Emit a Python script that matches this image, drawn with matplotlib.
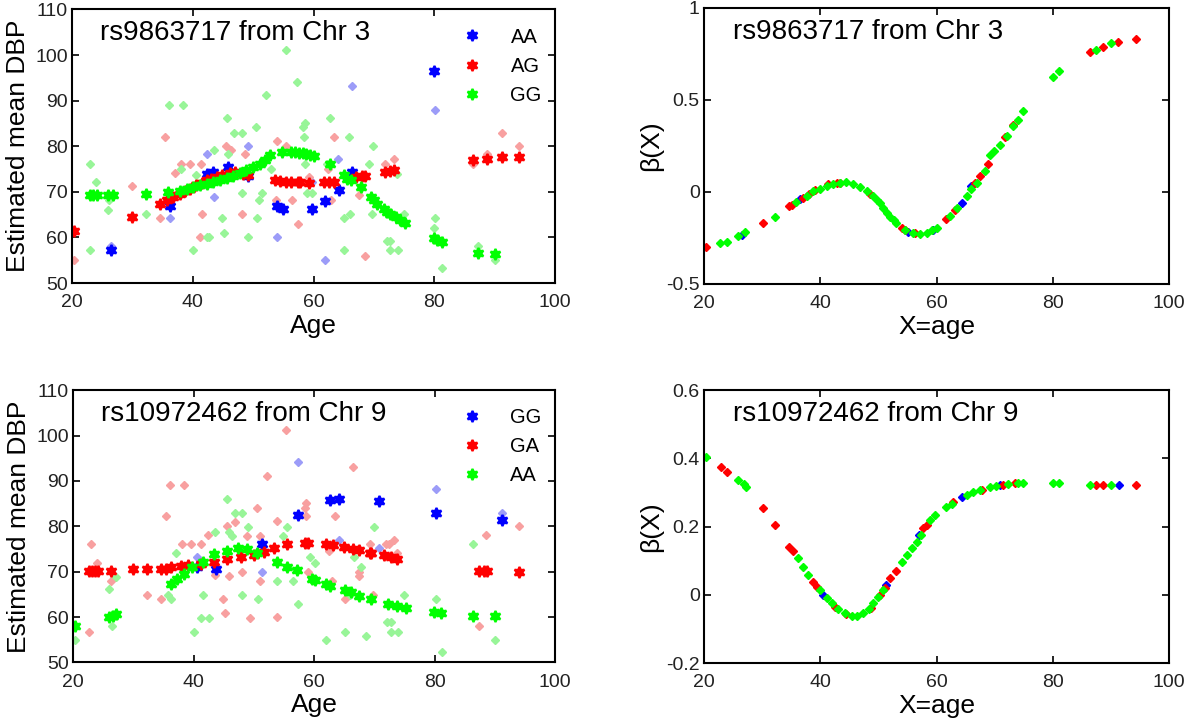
"""
Varying-coefficient fits of mean DBP against age for two SNPs.
"""
import numpy as np
import matplotlib
matplotlib.use('Agg')
import matplotlib.pyplot as plt

plt.rcParams['font.family'] = ['Liberation Sans', 'DejaVu Sans']

# ---------------- top-left: rs9863717, raw observations ----------------
tl_raw_AA_x = [26.4, 36.3, 42.3, 43.5, 49.1, 53.9, 59.8, 61.9, 64.1, 66.4, 80.2]
tl_raw_AA_y = [58.1, 64.2, 78.2, 68.9, 80.0, 60.0, 72.2, 55.0, 77.3, 93.1, 88.0]
tl_raw_AG_x = [20.3, 29.9, 34.6, 35.4, 37.1, 38.0, 39.6, 41.2, 41.3, 41.6, 45.5, 46.3,
               48.1, 48.6, 53.8, 53.9, 55.5, 56.5, 57.4, 59.3, 62.4, 62.9, 63.4, 66.7,
               67.5, 68.6, 71.9, 73.3, 86.4, 88.7, 91.2, 94.1]
tl_raw_AG_y = [55.0, 71.2, 64.2, 82.0, 74.1, 76.0, 76.0, 60.0, 76.0, 65.2, 80.1, 79.2,
               65.2, 78.2, 68.2, 81.1, 80.0, 68.2, 62.9, 73.3, 75.1, 68.2, 82.0, 73.3,
               69.3, 55.9, 76.0, 77.3, 76.2, 78.2, 82.9, 80.0]
tl_raw_GG_x = [22.9, 23.0, 24.0, 26.0, 26.2, 32.3, 36.1, 38.0, 38.4, 40.0, 40.5, 42.3,
               42.7, 43.5, 44.8, 45.2, 45.7, 45.9, 46.8, 48.1, 48.1, 49.2, 50.5, 50.7,
               51.0, 51.4, 52.2, 52.9, 55.4, 57.2, 58.2, 58.6, 58.5, 58.6, 59.0, 59.8,
               62.3, 62.7, 65.1, 65.1, 65.8, 66.0, 69.2, 69.7, 69.9, 72.1, 72.7, 72.7,
               73.8, 74.0, 75.0, 79.9, 80.2, 81.3, 87.3, 90.1]
tl_raw_GG_y = [57.2, 76.0, 72.2, 66.1, 68.3, 65.2, 89.1, 75.1, 89.1, 57.2, 73.6, 60.0,
               60.0, 79.2, 64.2, 61.0, 86.2, 78.2, 83.0, 83.0, 69.8, 60.0, 84.2, 64.2,
               68.2, 69.8, 91.3, 75.1, 101.1, 94.0, 84.2, 85.1, 82.0, 76.0, 69.8, 69.8,
               76.0, 86.3, 64.2, 57.2, 82.0, 65.2, 76.0, 65.2, 80.0, 59.3, 59.3, 57.2,
               74.0, 57.2, 65.2, 62.0, 64.2, 53.2, 58.1, 55.0]

# top-left: fitted means
tl_fit_AA_x = [26.4, 36.2, 42.3, 43.4, 45.9, 49.2, 53.9, 54.9, 59.8, 61.9, 64.2, 66.4, 80.0]
tl_fit_AA_y = [57.2, 66.9, 73.9, 74.4, 75.5, 73.5, 67.0, 66.3, 66.3, 68.0, 70.5, 74.4, 96.4]
tl_fit_AG_x = [20.3, 29.9, 34.6, 35.7, 36.8, 37.9, 38.7, 39.5, 40.6, 41.5, 42.3, 43.1,
               44.0, 44.8, 46.2, 47.0, 48.4, 49.2, 53.6, 54.5, 55.4, 56.3, 57.4, 57.8,
               59.3, 61.8, 62.6, 63.4, 67.0, 68.1, 68.6, 71.9, 72.7, 73.3, 86.4, 88.7,
               91.2, 94.1]
tl_fit_AG_y = [61.5, 64.5, 67.4, 68.2, 68.9, 69.6, 70.2, 70.7, 71.4, 72.0, 72.5, 72.9,
               73.3, 73.6, 74.1, 74.4, 74.0, 73.6, 72.5, 72.3, 72.2, 72.2, 72.2, 72.2,
               72.0, 72.2, 72.2, 72.2, 73.3, 73.4, 73.5, 74.4, 74.5, 74.7, 76.9, 77.3,
               77.6, 77.6]
tl_fit_GG_x = [22.9, 23.5, 24.2, 26.0, 26.8, 32.3, 35.9, 37.9, 39.0, 40.1, 41.2, 42.3,
               43.4, 44.5, 45.6, 46.7, 47.8, 48.9, 50.0, 51.1, 52.0, 52.8, 54.7, 56.3,
               57.0, 57.6, 58.2, 58.8, 59.4, 60.1, 62.7, 65.1, 65.6, 66.2, 67.8, 69.5,
               70.0, 70.6, 71.6, 72.2, 72.7, 73.6, 74.4, 75.2, 79.9, 80.5, 81.3, 87.3,
               90.1]
tl_fit_GG_y = [69.3, 69.3, 69.3, 69.3, 69.3, 69.6, 70.0, 70.2, 70.6, 71.1, 71.4, 71.8,
               72.1, 72.5, 73.0, 73.5, 74.1, 74.7, 75.4, 76.2, 77.0, 78.0, 78.7, 78.7,
               78.7, 78.6, 78.5, 78.3, 78.1, 77.8, 76.2, 73.6, 72.9, 72.5, 71.1, 68.9,
               68.2, 67.4, 66.3, 65.6, 65.2, 64.5, 63.9, 63.2, 59.8, 59.4, 59.0, 56.5,
               56.3]

# ---------------- bottom-left: rs10972462, raw observations ----------------
bl_raw_GG_x = [40.5, 51.4, 57.3, 62.7, 64.1, 70.8, 80.2, 91.2]
bl_raw_GG_y = [73.2, 70.0, 94.1, 85.8, 77.0, 75.2, 88.2, 83.0]
bl_raw_GA_x = [22.7, 22.9, 24.0, 26.2, 32.3, 34.6, 35.4, 36.1, 38.0, 38.4, 39.6, 41.3,
               42.3, 43.5, 44.8, 45.2, 45.5, 45.9, 46.8, 48.1, 48.8, 49.4, 50.5, 51.0,
               51.1, 52.2, 53.9, 53.9, 55.4, 58.5, 58.7, 58.6, 59.0, 62.4, 62.9, 63.4,
               65.1, 66.4, 67.5, 67.5, 69.2, 69.7, 71.9, 72.5, 73.3, 73.8, 87.3, 88.6,
               94.1]
bl_raw_GA_y = [56.7, 76.0, 72.0, 68.0, 64.8, 63.9, 82.3, 89.2, 76.1, 89.2, 76.1, 76.1,
               78.1, 69.3, 63.9, 60.9, 80.1, 69.0, 81.0, 70.0, 77.9, 59.9, 84.1, 68.0,
               77.9, 91.1, 60.1, 81.2, 101.2, 84.0, 85.1, 82.2, 70.0, 74.6, 68.0, 82.2,
               63.9, 93.1, 70.0, 69.0, 76.1, 64.8, 76.1, 76.1, 77.0, 74.2, 58.0, 78.1,
               80.0]
bl_raw_AA_x = [20.3, 26.0, 26.4, 27.1, 35.8, 36.2, 37.1, 40.0, 41.2, 41.6, 42.6, 43.5,
               45.6, 45.9, 46.3, 46.8, 48.1, 48.1, 49.0, 50.7, 53.9, 54.9, 55.5, 56.5,
               57.4, 59.3, 60.1, 61.9, 65.1, 66.0, 66.7, 67.8, 68.6, 69.9, 72.1, 72.7,
               72.7, 74.0, 75.0, 80.2, 81.3, 86.4, 90.1]
bl_raw_AA_y = [54.9, 66.1, 58.0, 68.9, 64.8, 63.9, 74.2, 56.7, 59.9, 64.8, 59.9, 78.8,
               86.0, 78.8, 77.9, 83.0, 83.0, 64.8, 79.9, 63.9, 68.0, 77.9, 79.9, 68.0,
               62.9, 73.2, 72.0, 54.9, 56.7, 64.8, 73.2, 71.0, 55.8, 79.9, 59.0, 59.0,
               56.7, 56.7, 64.8, 63.9, 52.3, 76.1, 54.9]

# bottom-left: fitted means
bl_fit_GG_x = [40.6, 43.7, 51.4, 57.3, 62.7, 64.1, 70.8, 80.2, 91.2]
bl_fit_GG_y = [71.1, 70.5, 76.0, 82.5, 85.8, 86.0, 85.5, 82.9, 81.4]
bl_fit_GA_x = [22.7, 23.2, 23.7, 24.1, 26.2, 30.0, 32.3, 34.6, 35.4, 36.2, 37.9, 39.0,
               41.2, 43.4, 45.6, 47.8, 50.0, 51.7, 53.3, 55.5, 58.5, 59.0, 62.0, 63.1,
               65.0, 66.4, 67.5, 69.2, 69.4, 71.6, 72.7, 73.8, 87.3, 88.2, 88.7, 94.1]
bl_fit_GA_y = [70.2, 70.2, 70.2, 70.2, 70.2, 70.5, 70.5, 70.7, 70.7, 71.0, 71.3, 71.5,
               71.8, 72.2, 72.7, 73.2, 73.7, 74.4, 75.2, 76.0, 76.4, 76.4, 76.1, 75.9,
               75.4, 75.1, 74.8, 74.2, 74.1, 73.7, 73.2, 72.7, 70.2, 70.2, 70.2, 70.0]
bl_fit_AA_x = [20.3, 26.0, 26.6, 27.1, 36.2, 37.3, 38.4, 39.8, 41.5, 43.4, 45.6, 47.3,
               48.9, 50.6, 53.9, 55.5, 57.2, 59.6, 60.1, 62.0, 62.6, 65.1, 66.2, 67.5,
               69.5, 72.2, 73.8, 75.2, 79.9, 81.0, 86.4, 90.1]
bl_fit_AA_y = [58.0, 60.1, 60.3, 60.6, 67.4, 68.5, 69.6, 71.1, 72.2, 73.9, 74.6, 75.2,
               74.9, 74.2, 72.2, 71.1, 70.3, 68.5, 68.2, 67.3, 66.8, 65.9, 65.6, 64.6,
               63.9, 62.9, 62.4, 62.1, 61.2, 61.0, 60.2, 60.2]

# ---------------- top-right: beta(X) for rs9863717 ----------------
tr_AA_x = [26.5, 36.5, 55.1, 59.4, 64.3, 66.0]
tr_AA_y = [-0.232, -0.038, -0.217, -0.205, -0.060, 0.034]
tr_AG_x = [20.3, 30.1, 34.7, 35.1, 37.1, 38.1, 39.1, 41.4, 42.8, 43.4, 48.6, 54.0, 54.6,
           56.3, 61.7, 63.2, 66.6, 67.5, 68.9, 71.8, 73.2, 86.4, 88.7, 91.3, 94.3]
tr_AG_y = [-0.300, -0.172, -0.078, -0.072, -0.033, -0.014, 0.009, 0.045, 0.049, 0.049,
           -0.009, -0.196, -0.205, -0.223, -0.150, -0.096, 0.050, 0.085, 0.149, 0.300,
           0.366, 0.759, 0.790, 0.815, 0.832]
tr_GG_x = [22.8, 23.9, 25.9, 27.1, 32.2, 35.9, 37.7, 38.8, 40.0, 41.1, 42.2, 43.4, 44.5,
           45.7, 46.8, 48.0, 49.1, 49.7, 50.3, 50.8, 51.4, 52.0, 52.6, 53.1, 54.6, 56.0,
           57.2, 58.3, 59.2, 60.0, 62.3, 63.5, 65.2, 66.0, 66.9, 68.3, 69.2, 69.8, 70.9,
           72.1, 73.2, 74.1, 74.9, 80.1, 81.1, 87.5, 90.1]
tr_GG_y = [-0.277, -0.272, -0.240, -0.217, -0.136, -0.056, -0.024, 0.004, 0.018, 0.034,
           0.045, 0.049, 0.053, 0.045, 0.027, 0.004, -0.024, -0.042, -0.063, -0.087,
           -0.114, -0.136, -0.154, -0.168, -0.205, -0.223, -0.228, -0.223, -0.210,
           -0.196, -0.129, -0.087, -0.024, 0.013, 0.049, 0.112, 0.203, 0.221, 0.257,
           0.303, 0.357, 0.393, 0.438, 0.625, 0.656, 0.774, 0.810]

# ---------------- bottom-right: beta(X) for rs10972462 ----------------
br_GG_x = [40.5, 51.3, 56.9, 64.3, 70.9, 91.4]
br_GG_y = [0.000, 0.029, 0.176, 0.286, 0.322, 0.322]
br_GA_x = [22.9, 23.9, 30.1, 32.2, 34.7, 35.3, 38.8, 39.4, 42.5, 44.5, 48.8, 50.3, 51.1,
           52.0, 53.0, 57.7, 58.3, 62.9, 67.8, 71.5, 73.5, 87.5, 88.7, 94.3]
br_GA_y = [0.376, 0.361, 0.256, 0.205, 0.141, 0.130, 0.039, 0.024, -0.036, -0.056,
           -0.039, 0.000, 0.020, 0.049, 0.071, 0.195, 0.205, 0.273, 0.307, 0.322, 0.329,
           0.322, 0.322, 0.322]
br_AA_x = [20.3, 25.9, 26.8, 27.3, 36.2, 37.1, 37.9, 40.0, 41.1, 42.0, 43.1, 44.3, 45.4,
           46.3, 47.4, 48.3, 49.1, 50.0, 50.8, 54.0, 54.9, 55.7, 56.6, 57.4, 58.9, 59.7,
           61.7, 62.6, 65.2, 66.3, 67.5, 69.2, 70.3, 72.3, 74.1, 74.9, 80.1, 81.1, 86.4,
           90.1]
br_AA_y = [0.403, 0.337, 0.325, 0.315, 0.107, 0.081, 0.059, 0.015, -0.010, -0.024,
           -0.042, -0.054, -0.061, -0.061, -0.054, -0.042, -0.024, -0.005, 0.015, 0.098,
           0.117, 0.137, 0.156, 0.176, 0.220, 0.234, 0.259, 0.266, 0.293, 0.302, 0.309,
           0.317, 0.319, 0.324, 0.327, 0.327, 0.327, 0.327, 0.322, 0.322]

BLUE, RED, GREEN = '#0000ff', '#ff0000', '#00ff00'
LBLUE, LRED, LGREEN = '#9c9cf8', '#f8a0a0', '#98f598'
STAR = (6, 1, 0)

fig = plt.figure(figsize=(12, 7.24), dpi=100)
ax_tl = fig.add_axes([0.060, 0.609, 0.4025, 0.378])
ax_tr = fig.add_axes([0.5867, 0.608, 0.3875, 0.381])
ax_bl = fig.add_axes([0.061, 0.085, 0.4015, 0.376])
ax_br = fig.add_axes([0.5867, 0.084, 0.3875, 0.377])


def style(ax, ylim, yticks, yticklabels):
    ax.set_xlim(20, 100)
    ax.set_ylim(*ylim)
    ax.set_xticks([20, 40, 60, 80, 100])
    ax.set_yticks(yticks)
    ax.set_yticklabels(yticklabels)
    ax.tick_params(direction='in', top=True, right=True, length=5, width=1.2,
                   labelsize=14, labelcolor='#222222', pad=3)
    ax.tick_params(axis='x', pad=8)
    for s in ax.spines.values():
        s.set_linewidth(1.5)


def left_panel(ax, raw, fit, labels, title):
    for (x, y), c in zip(raw, [LBLUE, LRED, LGREEN]):
        ax.plot(x, y, 'D', color=c, ms=4.2, mec=c, ls='none')
    handles = []
    for (x, y), c in zip(fit, [BLUE, RED, GREEN]):
        h, = ax.plot(x, y, marker=STAR, color=c, ms=8, mec=c, mew=1.6, ls='none')
        handles.append(h)
    ax.legend(handles, labels, loc='upper right', frameon=False, fontsize=14.5,
              handlelength=0.8, handletextpad=1.5, labelspacing=0.5,
              borderaxespad=0.5, bbox_to_anchor=(1.01, 1.0))
    style(ax, (50, 110), range(50, 111, 10), [str(v) for v in range(50, 111, 10)])
    ax.set_xlabel('Age', fontsize=19, labelpad=2)
    ax.set_ylabel('Estimated mean DBP', fontsize=19, labelpad=4)
    ax.text(0.058, 0.96, title, transform=ax.transAxes, fontsize=20, va='top')


def right_panel(ax, pts, ylim, yticks, yticklabels, title):
    for (x, y), c in zip(pts, [BLUE, RED, GREEN]):
        ax.plot(x, y, 'D', color=c, ms=3.8, mec=c, ls='none')
    style(ax, ylim, yticks, yticklabels)
    ax.set_xlabel('X=age', fontsize=19, labelpad=2)
    ax.set_ylabel('β(X)', fontsize=19, labelpad=2)
    ax.text(0.062, 0.96, title, transform=ax.transAxes, fontsize=20, va='top')


left_panel(ax_tl,
           [(tl_raw_AA_x, tl_raw_AA_y), (tl_raw_AG_x, tl_raw_AG_y), (tl_raw_GG_x, tl_raw_GG_y)],
           [(tl_fit_AA_x, tl_fit_AA_y), (tl_fit_AG_x, tl_fit_AG_y), (tl_fit_GG_x, tl_fit_GG_y)],
           ['AA', 'AG', 'GG'], 'rs9863717 from Chr 3')
left_panel(ax_bl,
           [(bl_raw_GG_x, bl_raw_GG_y), (bl_raw_GA_x, bl_raw_GA_y), (bl_raw_AA_x, bl_raw_AA_y)],
           [(bl_fit_GG_x, bl_fit_GG_y), (bl_fit_GA_x, bl_fit_GA_y), (bl_fit_AA_x, bl_fit_AA_y)],
           ['GG', 'GA', 'AA'], 'rs10972462 from Chr 9')

right_panel(ax_tr, [(tr_AA_x, tr_AA_y), (tr_AG_x, tr_AG_y), (tr_GG_x, tr_GG_y)],
            (-0.5, 1), [-0.5, 0, 0.5, 1], ['-0.5', '0', '0.5', '1'],
            'rs9863717 from Chr 3')
right_panel(ax_br, [(br_GG_x, br_GG_y), (br_GA_x, br_GA_y), (br_AA_x, br_AA_y)],
            (-0.2, 0.6), [-0.2, 0, 0.2, 0.4, 0.6], ['-0.2', '0', '0.2', '0.4', '0.6'],
            'rs10972462 from Chr 9')

fig.savefig('out.png', dpi=100)
